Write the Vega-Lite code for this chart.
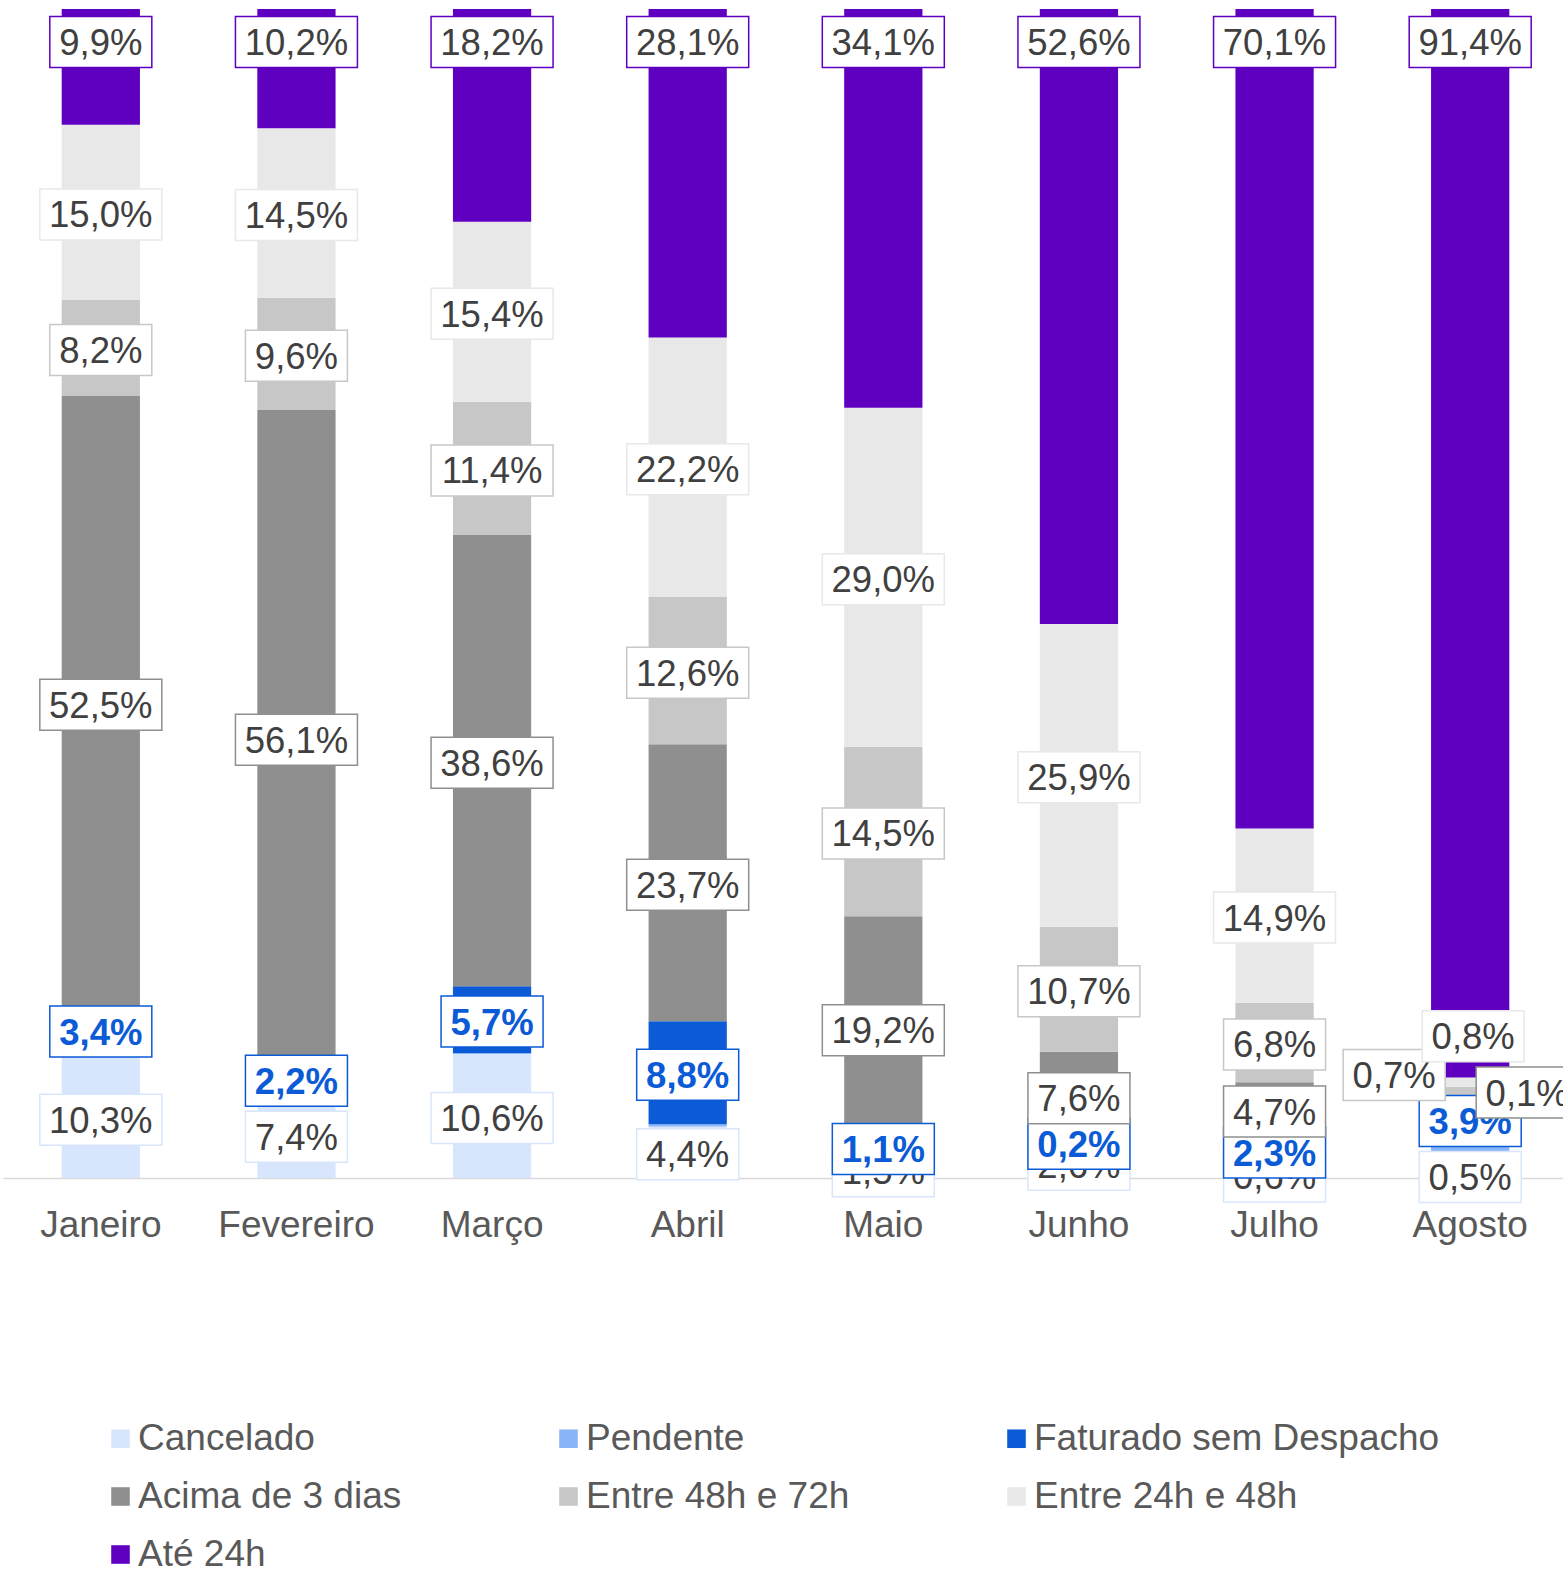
{
  "$schema": "https://vega.github.io/schema/vega-lite/v6.json",
  "width": 1560,
  "height": 1169,
  "autosize": "none",
  "padding": {"left": 3, "top": 9, "right": 0, "bottom": 395},
  "background": "white",
  "config": {
    "view": {"stroke": null},
    "font": "Liberation Sans",
    "locale": {"number": {"decimal": ",", "thousands": ".", "grouping": [3], "currency": ["", " €"]}}
  },
  "data": {
    "values": [
      {"month": "Janeiro", "serie": "Cancelado", "value": 0.103},
      {"month": "Janeiro", "serie": "Pendente", "value": 0.007},
      {"month": "Janeiro", "serie": "Faturado sem Despacho", "value": 0.034},
      {"month": "Janeiro", "serie": "Acima de 3 dias", "value": 0.525},
      {"month": "Janeiro", "serie": "Entre 48h e 72h", "value": 0.082},
      {"month": "Janeiro", "serie": "Entre 24h e 48h", "value": 0.150},
      {"month": "Janeiro", "serie": "Até 24h", "value": 0.099},
      {"month": "Fevereiro", "serie": "Cancelado", "value": 0.074},
      {"month": "Fevereiro", "serie": "Pendente", "value": 0.0},
      {"month": "Fevereiro", "serie": "Faturado sem Despacho", "value": 0.022},
      {"month": "Fevereiro", "serie": "Acima de 3 dias", "value": 0.561},
      {"month": "Fevereiro", "serie": "Entre 48h e 72h", "value": 0.096},
      {"month": "Fevereiro", "serie": "Entre 24h e 48h", "value": 0.145},
      {"month": "Fevereiro", "serie": "Até 24h", "value": 0.102},
      {"month": "Março", "serie": "Cancelado", "value": 0.106},
      {"month": "Março", "serie": "Pendente", "value": 0.001},
      {"month": "Março", "serie": "Faturado sem Despacho", "value": 0.057},
      {"month": "Março", "serie": "Acima de 3 dias", "value": 0.386},
      {"month": "Março", "serie": "Entre 48h e 72h", "value": 0.114},
      {"month": "Março", "serie": "Entre 24h e 48h", "value": 0.154},
      {"month": "Março", "serie": "Até 24h", "value": 0.182},
      {"month": "Abril", "serie": "Cancelado", "value": 0.044},
      {"month": "Abril", "serie": "Pendente", "value": 0.002},
      {"month": "Abril", "serie": "Faturado sem Despacho", "value": 0.088},
      {"month": "Abril", "serie": "Acima de 3 dias", "value": 0.237},
      {"month": "Abril", "serie": "Entre 48h e 72h", "value": 0.126},
      {"month": "Abril", "serie": "Entre 24h e 48h", "value": 0.222},
      {"month": "Abril", "serie": "Até 24h", "value": 0.281},
      {"month": "Maio", "serie": "Cancelado", "value": 0.015},
      {"month": "Maio", "serie": "Pendente", "value": 0.006},
      {"month": "Maio", "serie": "Faturado sem Despacho", "value": 0.011},
      {"month": "Maio", "serie": "Acima de 3 dias", "value": 0.192},
      {"month": "Maio", "serie": "Entre 48h e 72h", "value": 0.145},
      {"month": "Maio", "serie": "Entre 24h e 48h", "value": 0.290},
      {"month": "Maio", "serie": "Até 24h", "value": 0.341},
      {"month": "Junho", "serie": "Cancelado", "value": 0.026},
      {"month": "Junho", "serie": "Pendente", "value": 0.004},
      {"month": "Junho", "serie": "Faturado sem Despacho", "value": 0.002},
      {"month": "Junho", "serie": "Acima de 3 dias", "value": 0.076},
      {"month": "Junho", "serie": "Entre 48h e 72h", "value": 0.107},
      {"month": "Junho", "serie": "Entre 24h e 48h", "value": 0.259},
      {"month": "Junho", "serie": "Até 24h", "value": 0.526},
      {"month": "Julho", "serie": "Cancelado", "value": 0.006},
      {"month": "Julho", "serie": "Pendente", "value": 0.006},
      {"month": "Julho", "serie": "Faturado sem Despacho", "value": 0.023},
      {"month": "Julho", "serie": "Acima de 3 dias", "value": 0.047},
      {"month": "Julho", "serie": "Entre 48h e 72h", "value": 0.068},
      {"month": "Julho", "serie": "Entre 24h e 48h", "value": 0.149},
      {"month": "Julho", "serie": "Até 24h", "value": 0.701},
      {"month": "Agosto", "serie": "Cancelado", "value": 0.005},
      {"month": "Agosto", "serie": "Pendente", "value": 0.026},
      {"month": "Agosto", "serie": "Faturado sem Despacho", "value": 0.039},
      {"month": "Agosto", "serie": "Acima de 3 dias", "value": 0.001},
      {"month": "Agosto", "serie": "Entre 48h e 72h", "value": 0.007},
      {"month": "Agosto", "serie": "Entre 24h e 48h", "value": 0.008},
      {"month": "Agosto", "serie": "Até 24h", "value": 0.914}
    ]
  },
  "transform": [
    {"calculate": "indexof(['Cancelado','Pendente','Faturado sem Despacho','Acima de 3 dias','Entre 48h e 72h','Entre 24h e 48h','Até 24h'], datum.serie)", "as": "ord"},
    {"stack": "value", "groupby": ["month"], "sort": [{"field": "ord", "order": "ascending"}], "as": ["y0", "y1"]},
    {"calculate": "(datum.y0 + datum.y1) / 2", "as": "ymid"}
  ],
  "encoding": {
    "x": {
      "field": "month", "type": "nominal",
      "sort": ["Janeiro", "Fevereiro", "Março", "Abril", "Maio", "Junho", "Julho", "Agosto"],
      "scale": {"paddingInner": 0.6, "paddingOuter": 0.3, "range": [0, 1565]},
      "axis": {"title": null, "ticks": false, "grid": false, "domainColor": "#d9d9d9", "domainWidth": 1.5, "labelFontSize": 37, "labelColor": "#595959", "labelPadding": 29, "labelAngle": 0, "labelFont": "Liberation Sans"}
    }
  },
  "layer": [
    {
      "mark": {"type": "bar"},
      "encoding": {
        "y": {"field": "y1", "type": "quantitative", "scale": {"domain": [0, 1], "nice": false, "zero": true}, "axis": null},
        "y2": {"field": "y0"},
        "color": {
          "field": "serie", "type": "nominal",
          "scale": {
            "domain": ["Cancelado", "Pendente", "Faturado sem Despacho", "Acima de 3 dias", "Entre 48h e 72h", "Entre 24h e 48h", "Até 24h"],
            "range": ["#d8e6fd", "#8ab4f8", "#0b5bd7", "#8f8f8f", "#c7c7c7", "#e8e8e8", "#5f00c1"]
          },
          "legend": {
            "title": null, "orient": "none", "direction": "horizontal", "legendX": 99, "legendY": 1411, "columns": 3, "gridAlign": "all",
            "columnPadding": 6, "rowPadding": 20, "symbolType": "square", "symbolSize": 345, "symbolStrokeWidth": 0,
            "labelFontSize": 37, "labelColor": "#595959", "labelOffset": -1, "labelFont": "Liberation Sans", "labelLimit": 1000, "padding": 0
          }
        }
      }
    },
    {
      "transform": [{"filter": "datum.serie == 'Cancelado'"}],
      "mark": {"type": "point", "size": 4, "filled": true, "fill": "white", "strokeWidth": 1.5, "opacity": 1, "yOffset": 2},
      "encoding": {
        "y": {"field": "ymid", "type": "quantitative"},
        "shape": {"condition": {"test": "datum.value >= 0.0995", "value": "M-61,-25.5H61V25.5H-61Z"}, "value": "M-51,-25.5H51V25.5H-51Z"},
        "stroke": {"field": "serie", "type": "nominal", "scale": {"domain": ["Cancelado", "Pendente", "Faturado sem Despacho", "Acima de 3 dias", "Entre 48h e 72h", "Entre 24h e 48h", "Até 24h"], "range": ["#d8e6fd", "#8ab4f8", "#0b5bd7", "#8f8f8f", "#c7c7c7", "#e8e8e8", "#5f00c1"]}, "legend": null}
      }
    },
    {
      "transform": [{"filter": "datum.serie == 'Cancelado'"}],
      "mark": {"type": "text", "fontSize": 36.5, "font": "Liberation Sans", "fill": "#404040", "baseline": "middle", "align": "center", "dy": 4},
      "encoding": {
        "y": {"field": "ymid", "type": "quantitative"},
        "text": {"field": "value", "type": "quantitative", "format": ".1%"}
      }
    },
    {
      "transform": [{"filter": "datum.serie == 'Faturado sem Despacho'"}],
      "mark": {"type": "point", "size": 4, "filled": true, "fill": "white", "strokeWidth": 1.5, "opacity": 1, "yOffset": 2},
      "encoding": {
        "y": {"field": "ymid", "type": "quantitative"},
        "shape": {"condition": {"test": "datum.value >= 0.0995", "value": "M-61,-25.5H61V25.5H-61Z"}, "value": "M-51,-25.5H51V25.5H-51Z"},
        "stroke": {"field": "serie", "type": "nominal", "legend": null}
      }
    },
    {
      "transform": [{"filter": "datum.serie == 'Faturado sem Despacho'"}],
      "mark": {"type": "text", "fontSize": 36.5, "font": "Liberation Sans", "fontWeight": "bold", "fill": "#0b5bd7", "baseline": "middle", "align": "center", "dy": 4},
      "encoding": {
        "y": {"field": "ymid", "type": "quantitative"},
        "text": {"field": "value", "type": "quantitative", "format": ".1%"}
      }
    },
    {
      "transform": [{"filter": "(datum.serie == 'Acima de 3 dias' || datum.serie == 'Entre 48h e 72h' || datum.serie == 'Entre 24h e 48h') && datum.month != 'Agosto'"}],
      "mark": {"type": "point", "size": 4, "filled": true, "fill": "white", "strokeWidth": 1.5, "opacity": 1, "yOffset": 2},
      "encoding": {
        "y": {"field": "ymid", "type": "quantitative"},
        "shape": {"condition": {"test": "datum.value >= 0.0995", "value": "M-61,-25.5H61V25.5H-61Z"}, "value": "M-51,-25.5H51V25.5H-51Z"},
        "stroke": {"field": "serie", "type": "nominal", "legend": null}
      }
    },
    {
      "transform": [{"filter": "(datum.serie == 'Acima de 3 dias' || datum.serie == 'Entre 48h e 72h' || datum.serie == 'Entre 24h e 48h') && datum.month != 'Agosto'"}],
      "mark": {"type": "text", "fontSize": 36.5, "font": "Liberation Sans", "fill": "#404040", "baseline": "middle", "align": "center", "dy": 4},
      "encoding": {
        "y": {"field": "ymid", "type": "quantitative"},
        "text": {"field": "value", "type": "quantitative", "format": ".1%"}
      }
    },
    {
      "transform": [{"filter": "datum.serie == 'Acima de 3 dias' && datum.month == 'Agosto'"}],
      "mark": {"type": "point", "size": 4, "filled": true, "fill": "white", "strokeWidth": 1.5, "opacity": 1, "xOffset": 57, "yOffset": -3},
      "encoding": {
        "y": {"field": "ymid", "type": "quantitative"},
        "shape": {"value": "M-51,-25.5H51V25.5H-51Z"},
        "stroke": {"field": "serie", "type": "nominal", "legend": null}
      }
    },
    {
      "transform": [{"filter": "datum.serie == 'Acima de 3 dias' && datum.month == 'Agosto'"}],
      "mark": {"type": "text", "fontSize": 36.5, "font": "Liberation Sans", "fill": "#404040", "baseline": "middle", "align": "center", "dx": 57, "dy": -1},
      "encoding": {
        "y": {"field": "ymid", "type": "quantitative"},
        "text": {"field": "value", "type": "quantitative", "format": ".1%"}
      }
    },
    {
      "transform": [{"filter": "datum.serie == 'Entre 48h e 72h' && datum.month == 'Agosto'"}],
      "mark": {"type": "point", "size": 4, "filled": true, "fill": "white", "strokeWidth": 1.5, "opacity": 1, "xOffset": -76, "yOffset": -16},
      "encoding": {
        "y": {"field": "ymid", "type": "quantitative"},
        "shape": {"value": "M-51,-25.5H51V25.5H-51Z"},
        "stroke": {"field": "serie", "type": "nominal", "legend": null}
      }
    },
    {
      "transform": [{"filter": "datum.serie == 'Entre 48h e 72h' && datum.month == 'Agosto'"}],
      "mark": {"type": "text", "fontSize": 36.5, "font": "Liberation Sans", "fill": "#404040", "baseline": "middle", "align": "center", "dx": -76, "dy": -14},
      "encoding": {
        "y": {"field": "ymid", "type": "quantitative"},
        "text": {"field": "value", "type": "quantitative", "format": ".1%"}
      }
    },
    {
      "transform": [{"filter": "datum.serie == 'Entre 24h e 48h' && datum.month == 'Agosto'"}],
      "mark": {"type": "point", "size": 4, "filled": true, "fill": "white", "strokeWidth": 1.5, "opacity": 1, "xOffset": 3, "yOffset": -46},
      "encoding": {
        "y": {"field": "ymid", "type": "quantitative"},
        "shape": {"value": "M-51,-25.5H51V25.5H-51Z"},
        "stroke": {"field": "serie", "type": "nominal", "legend": null}
      }
    },
    {
      "transform": [{"filter": "datum.serie == 'Entre 24h e 48h' && datum.month == 'Agosto'"}],
      "mark": {"type": "text", "fontSize": 36.5, "font": "Liberation Sans", "fill": "#404040", "baseline": "middle", "align": "center", "dx": 3, "dy": -44},
      "encoding": {
        "y": {"field": "ymid", "type": "quantitative"},
        "text": {"field": "value", "type": "quantitative", "format": ".1%"}
      }
    },
    {
      "transform": [{"filter": "datum.serie == 'Até 24h'"}],
      "mark": {"type": "point", "size": 4, "filled": true, "fill": "white", "strokeWidth": 1.5, "opacity": 1, "yOffset": 33},
      "encoding": {
        "y": {"field": "y1", "type": "quantitative"},
        "shape": {"condition": {"test": "datum.value >= 0.0995", "value": "M-61,-25.5H61V25.5H-61Z"}, "value": "M-51,-25.5H51V25.5H-51Z"},
        "stroke": {"field": "serie", "type": "nominal", "legend": null}
      }
    },
    {
      "transform": [{"filter": "datum.serie == 'Até 24h'"}],
      "mark": {"type": "text", "fontSize": 36.5, "font": "Liberation Sans", "fill": "#404040", "baseline": "middle", "align": "center", "dy": 35},
      "encoding": {
        "y": {"field": "y1", "type": "quantitative"},
        "text": {"field": "value", "type": "quantitative", "format": ".1%"}
      }
    }
  ]
}
